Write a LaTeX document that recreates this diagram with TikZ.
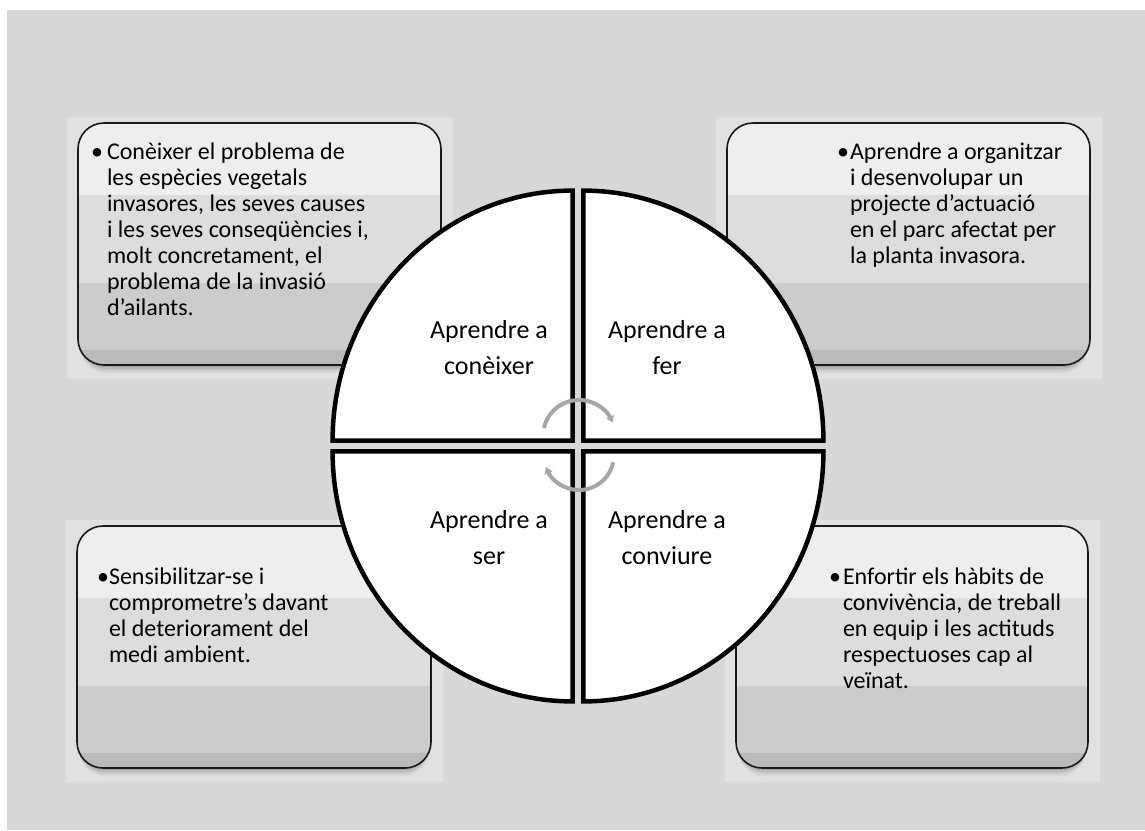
\documentclass[tikz,border=0pt]{standalone}
\usepackage{fontspec}
\setmainfont{Carlito}
\usetikzlibrary{arrows.meta,calc}
\definecolor{bggray}{RGB}{216,216,216}
\definecolor{panelgray}{RGB}{225,225,225}
\definecolor{bandA}{RGB}{238,238,238}
\definecolor{bandB}{RGB}{221,221,221}
\definecolor{bandC}{RGB}{204,204,204}
\definecolor{bandD}{RGB}{187,187,187}
\definecolor{arrowgray}{RGB}{166,166,166}
\tikzset{
  boxline/.style={draw=black!90, line width=1.6pt, rounded corners=26pt},
  quad/.style={fill=white, draw=black, line width=4.5pt, line join=miter},
  cyclearrow/.style={draw=arrowgray, line width=4pt, -{Stealth[length=7pt,width=9pt]}},
  txt/.style={inner sep=0pt, outer sep=0pt, text=black},
}
\newcommand\InfoBox[5]{%
  \fill[panelgray] (#1-11,#2-6) rectangle (#3+12,#4+14);
  \foreach \sa/\op in {2/0.10,4/0.08,6/0.06,8/0.04} {
    \fill[black, opacity=\op, rounded corners=26pt] (#1+2,#2+\sa) rectangle (#3-2,#4+\sa);
  }
  \begin{scope}
    \clip[rounded corners=26pt] (#1,#2) rectangle (#3,#4);
    \pgfmathsetmacro\hh{#4-#2}
    \fill[bandA] (#1,#2) rectangle (#3,#2+0.298*\hh);
    \fill[bandB] (#1,#2+0.298*\hh) rectangle (#3,#2+0.661*\hh);
    \fill[bandC] (#1,#2+0.661*\hh) rectangle (#3,#2+0.938*\hh);
    \fill[bandD] (#1,#2+0.938*\hh) rectangle (#3,#4);
  \end{scope}
  \draw[boxline] (#1,#2) rectangle (#3,#4);
  \coordinate (#5) at ($(#1,#2)!0.5!(#3,#4)$);
}
\begin{document}
\begin{tikzpicture}[x=1pt,y=-1pt]
\useasboundingbox (0,0) rectangle (1145,830);
\fill[white] (0,0) rectangle (1145,830);
\fill[bggray] (7,10) rectangle (1145,830);

% information boxes
\InfoBox{78}{123}{441}{365}{tlbox}
\InfoBox{727}{123}{1090}{365}{trbox}
\InfoBox{77}{526}{431}{768}{blbox}
\InfoBox{736}{526}{1088}{768}{brbox}

% box texts
\node[txt, anchor=base] (tlbul) at (97,159) {\fontsize{24}{24}\selectfont •};
\node[txt, anchor=base west] (tltext) at (107,159) {\parbox[t]{330pt}{\raggedright\fontsize{24}{26}\selectfont
Conèixer el problema de\\
les espècies vegetals\\
invasores, les seves causes\\
i les seves conseqüències i,\\
molt concretament, el\\
problema de la invasió\\
d’ailants.}};

\node[txt, anchor=base] (trbul) at (843,159) {\fontsize{24}{24}\selectfont •};
\node[txt, anchor=base west] (trtext) at (850,159) {\parbox[t]{240pt}{\raggedright\fontsize{24}{26}\selectfont
Aprendre a organitzar\\
i desenvolupar un\\
projecte d’actuació\\
en el parc afectat per\\
la planta invasora.}};

\node[txt, anchor=base] (blbul) at (103,584) {\fontsize{24}{24}\selectfont •};
\node[txt, anchor=base west] (bltext) at (109,584) {\parbox[t]{300pt}{\raggedright\fontsize{24}{26}\selectfont
Sensibilitzar-se i\\
comprometre’s davant\\
el deteriorament del\\
medi ambient.}};

\node[txt, anchor=base] (brbul) at (835,584) {\fontsize{24}{24}\selectfont •};
\node[txt, anchor=base west] (brtext) at (843,584) {\parbox[t]{240pt}{\raggedright\fontsize{24}{26}\selectfont
Enfortir els hàbits de\\
convivència, de treball\\
en equip i les actituds\\
respectuoses cap al\\
veïnat.}};

% circle quadrants
\draw[quad] (572.6,440.6) -- ++(-240,0) arc[start angle=180, end angle=270, x radius=240, y radius=250] -- cycle;
\draw[quad] (583.4,440.6) -- ++(0,-250) arc[start angle=270, end angle=360, x radius=240, y radius=250] -- cycle;
\draw[quad] (583.4,451.4) -- ++(240,0) arc[start angle=0, end angle=90, x radius=240, y radius=250] -- cycle;
\draw[quad] (572.6,451.4) -- ++(0,250) arc[start angle=90, end angle=180, x radius=240, y radius=250] -- cycle;

% quadrant labels
\node[txt, anchor=base] (lconeixer) at (489,338) {\parbox[t]{170pt}{\centering\fontsize{26}{36}\selectfont Aprendre a\\conèixer}};
\node[txt, anchor=base] (lfer) at (667,338) {\parbox[t]{170pt}{\centering\fontsize{26}{36}\selectfont Aprendre a\\fer}};
\node[txt, anchor=base] (lser) at (489,528) {\parbox[t]{170pt}{\centering\fontsize{26}{36}\selectfont Aprendre a\\ser}};
\node[txt, anchor=base] (lconviure) at (667,528) {\parbox[t]{170pt}{\centering\fontsize{26}{36}\selectfont Aprendre a\\conviure}};

% cycle arrows
\coordinate (upc) at (579,436);
\coordinate (loc) at (579,455);
\draw[cyclearrow] ($(upc)+(193:36)$) arc[start angle=193, end angle=338, radius=36];
\draw[cyclearrow] ($(loc)+(12:35)$) arc[start angle=12, end angle=160, radius=35];
\end{tikzpicture}
\end{document}
